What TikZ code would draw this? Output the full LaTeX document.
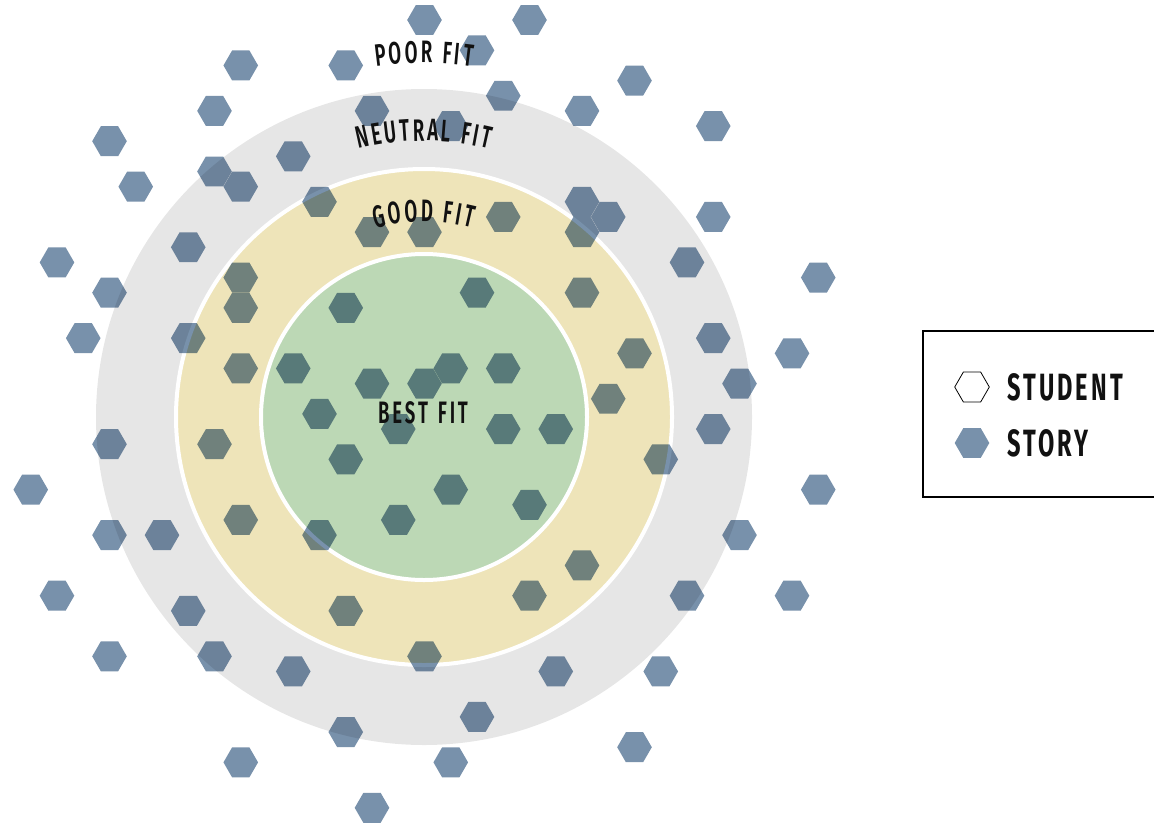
\documentclass[tikz,border=0pt]{standalone}
\usepackage{fontspec}
\usetikzlibrary{shapes.geometric,decorations.text}
\newfontfamily\arcfont{Fira Sans}[UprightFont=* SemiBold, FakeStretch=0.6]
\newfontfamily\legfont{Fira Sans}[UprightFont=* Bold, FakeStretch=0.62, LetterSpace=8]
\newcommand\arcsty{\arcfont\fontsize{15.5pt}{17pt}\selectfont}
\newcommand\legsty{\legfont\fontsize{19pt}{21pt}\selectfont}
\definecolor{ringgray}{HTML}{E6E6E6}
\definecolor{ringyellow}{HTML}{EEE4B9}
\definecolor{ringgreen}{HTML}{BCD8B5}
\definecolor{story}{HTML}{7891AB}
\definecolor{ink}{HTML}{111111}
\begin{document}
\begin{tikzpicture}[x=0.5pt,y=0.5pt,
  hexst/.style={regular polygon, regular polygon sides=6, minimum size=17.3pt,
    inner sep=0pt, outer sep=0pt, fill=story, draw=none},
  arclabel/.style={font=\arcsty, decorate, decoration={text effects along path, text={#1}, text align=center,
    text effects/.cd, text along path, characters={text=ink, font=\arcsty},
    character widths={inner xsep=0.68pt, font=\arcsty}}}]
\useasboundingbox (0,0) rectangle (1154,827);
\coordinate (c) at (424,410);
\fill[ringgray] (c) circle[radius=328];
\filldraw[fill=ringyellow, draw=white, line width=2pt] (c) circle[radius=248];
\filldraw[fill=ringgreen, draw=white, line width=2pt] (c) circle[radius=163];
\begin{scope}[blend mode=multiply]
\foreach \i/\k [count=\n] in {0/0,4/0,2/2,-3/3,-7/3,8/4,3/5,6/6,-8/6,-2/6,1/7,11/7,-12/8,-5/9,-8/10,-11/11,-7/11,-4/12,6/12,7/13,11/13,3/13,6/14,-2/14,0/14,-9/15,10/16,-14/16,15/17,-7/17,6/18,2/18,-12/18,-7/19,-3/19,11/21,-13/21,-9/21,14/22,8/22,3/23,1/23,-7/23,-5/23,12/24,-2/24,0/24,7/25,-4/26,-1/27,3/27,5/27,11/27,-12/28,-8/28,-3/29,9/29,-15/31,1/31,15/31,4/32,-7/33,-1/33,-12/34,-10/34,-4/34,12/34,6/36,-14/38,4/38,10/38,14/38,-9/39,-3/39,-12/42,-8/42,0/42,-5/43,5/43,9/43,2/46,-3/47,8/48,-7/49,1/49,-2/52}
  \node[hexst] (h\n) at ({424.5+26.25*\i},{807-15.15*\k}) {};
\end{scope}
\coordinate (bl) at (323,404);
\coordinate (br) at (523,404);
\path[arclabel={POOR FIT}] (c) ++(105:354) arc[start angle=105, end angle=75, radius=354];
\path[arclabel={NEUTRAL FIT}] (c) ++(115:276) arc[start angle=115, end angle=65, radius=276];
\path[arclabel={GOOD FIT}] (c) ++(115:195) arc[start angle=115, end angle=65, radius=195];
\path[arclabel={BEST FIT}] (bl) -- (br);
\draw[line width=1.3pt] (923,496) rectangle (1180,330);
\node[hexst, fill=white, draw=black, line width=0.4pt] (stud) at (972,440) {};
\node[hexst] (storyhex) at (972,384) {};
\node[font=\legsty, text=ink, anchor=base west, inner sep=0pt] (studt) at (1007,427) {STUDENT};
\node[font=\legsty, text=ink, anchor=base west, inner sep=0pt] (storyt) at (1007,371) {STORY};
\end{tikzpicture}
\end{document}
